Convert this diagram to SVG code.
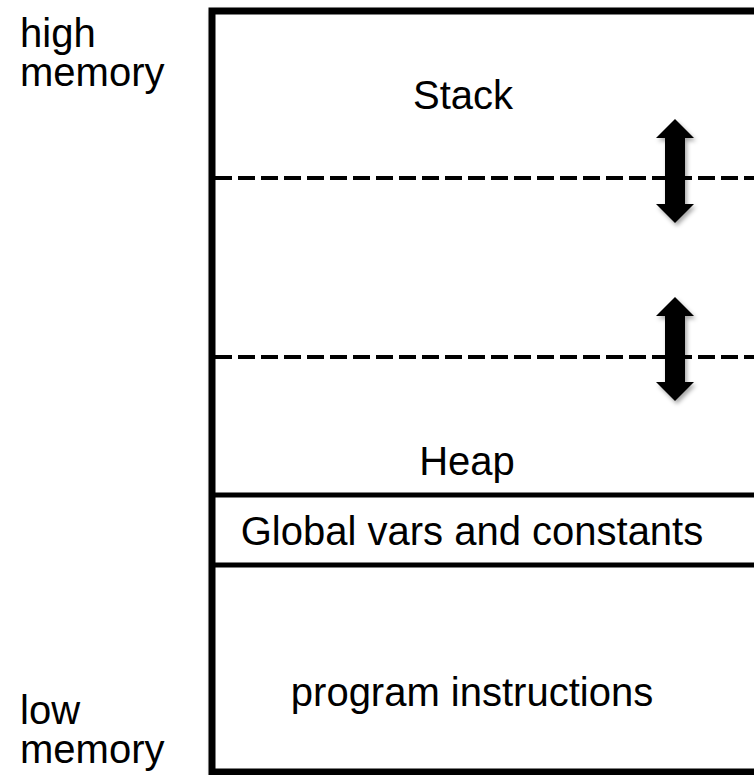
<svg xmlns="http://www.w3.org/2000/svg" width="754" height="775" viewBox="0 0 754 775">
  <defs>
    <filter id="sh" x="-20%" y="-20%" width="140%" height="140%">
      <feDropShadow dx="2" dy="3" stdDeviation="2" flood-color="#000" flood-opacity="0.35"/>
    </filter>
    <style>
      .t{font-family:"Liberation Sans",Arial,sans-serif;font-size:40px;fill:#000}
      .c{text-anchor:middle}
      .solid{stroke:#000;stroke-width:5;fill:none}
      .dash{stroke:#000;stroke-width:4;stroke-dasharray:17 6;fill:none}
      .arrow{fill:#000}
    </style>
  </defs>
  <rect width="754" height="775" fill="#fff"/>
  <g id="frame" filter="url(#sh)">
    <rect x="212" y="11" width="560" height="761" fill="#fff" stroke="#000" stroke-width="7"/>
  </g>
  <g id="connectors">
    <line class="dash" x1="215" y1="178" x2="754" y2="178"/>
    <line class="dash" x1="215" y1="357" x2="754" y2="357"/>
    <line class="solid" x1="215" y1="495" x2="754" y2="495"/>
    <line class="solid" x1="215" y1="565" x2="754" y2="565"/>
  </g>
  <g id="arrow1" filter="url(#sh)">
    <polygon class="arrow" points="675,119 694,138 685,138 685,204 694,204 675,223 656,204 665,204 665,138 656,138"/>
  </g>
  <g id="arrow2" filter="url(#sh)">
    <polygon class="arrow" points="675,297 694,316 685,316 685,382 694,382 675,401 656,382 665,382 665,316 656,316"/>
  </g>
  <g id="labels">
    <text class="t" x="20" y="47">high</text>
    <text class="t" x="20" y="86">memory</text>
    <text class="t" x="20" y="724">low</text>
    <text class="t" x="20" y="763">memory</text>
  </g>
  <g id="stack"><text class="t c" x="463" y="109">Stack</text></g>
  <g id="heap"><text class="t c" x="467" y="475">Heap</text></g>
  <g id="globals"><text class="t c" x="472" y="545">Global vars and constants</text></g>
  <g id="program"><text class="t c" x="472" y="706">program instructions</text></g>
</svg>
